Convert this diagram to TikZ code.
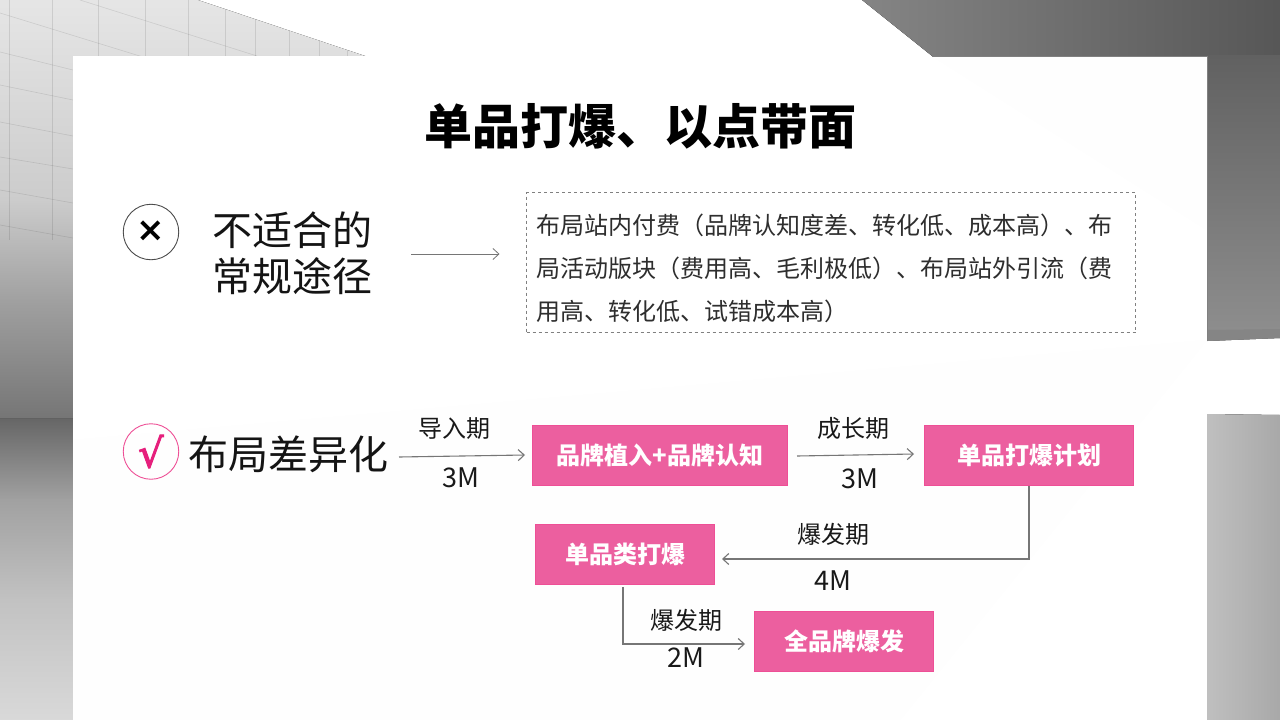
\documentclass[tikz,border=0pt]{standalone}
\usepackage{fontspec}
\setmainfont{Noto Sans CJK SC}
\newfontfamily\symfont{DejaVu Sans}
\newfontfamily\symheavy[FakeBold=2.5]{DejaVu Sans}
\usetikzlibrary{arrows.meta}
\definecolor{pinkfill}{HTML}{EC5F9F}
\definecolor{pinkedge}{HTML}{EE4F96}
\definecolor{pinkmark}{HTML}{E61F7C}
\definecolor{linegray}{HTML}{767676}
\definecolor{cardtint}{HTML}{FEFEFE}
\tikzset{
  x=1pt,y=-1pt,
  pinkbox/.style={draw=pinkedge,line width=0.8pt,fill=pinkfill,text=white,font=\fontsize{24}{28}\selectfont\bfseries,inner sep=0pt,minimum height=60pt},
  heading/.style={font=\fontsize{40}{46}\selectfont,text=black!92,inner sep=0pt,align=center},
  period/.style={font=\fontsize{24}{28}\selectfont,text=black!90,inner sep=0pt},
  amount/.style={font=\fontsize{27}{30}\selectfont,text=black!90,inner sep=0pt},
  conn/.style={draw=linegray,line width=1.1pt,-{Straight Barb[length=6pt,width=11pt,line width=1.1pt]}},
  thinconn/.style={draw=linegray,line width=0.8pt,-{Straight Barb[length=6pt,width=11pt,line width=0.8pt]}},
  ringmark/.style={circle,minimum size=55.5pt,inner sep=0pt,line width=0.9pt},
  gridline/.style={draw=black,draw opacity=0.1,line width=0.6pt}
}
\begin{document}
\begin{tikzpicture}
\useasboundingbox (0,0) rectangle (1280,720);
\fill[white] (0,0) rectangle (1280,720);
% left background
\fill[top color=black!10,bottom color=black!20] (0,0) -- (198,0) -- (365,56) -- (73,56) -- (73,200) -- (0,200) -- cycle;
\fill[top color=black!20,bottom color=black!37] (0,199) rectangle (73,300);
\fill[top color=black!37,bottom color=black!54] (0,299) rectangle (73,419);
\fill[top color=black!60,bottom color=black!37] (0,418) rectangle (73,500);
\fill[top color=black!37,bottom color=black!24] (0,499) rectangle (73,600);
\fill[top color=black!24,bottom color=black!15] (0,599) rectangle (73,720);
\fill[black!62] (0,417.5) rectangle (73,419);
\begin{scope}
\clip (0,0) -- (198,0) -- (365,56) -- (73,56) -- (73,240) -- (0,240) -- cycle;
\foreach \xa in {9,52,98,145,188,225,255,289,319,347}
  \draw[gridline] (\xa,0) -- (\xa,240);
\draw[gridline] (80,0) -- (257,56);
\draw[gridline] (0,13) -- (143,57);
\draw[gridline] (0,52) -- (73,70);
\draw[gridline] (0,85) -- (73,100);
\draw[gridline] (0,122) -- (73,136);
\draw[gridline] (0,157) -- (73,169);
\draw[gridline] (0,190) -- (73,203);
\draw[gridline] (0,225) -- (73,238);
\end{scope}
% right background
\fill[left color=black!48,right color=black!66] (862,0) -- (1280,0) -- (1280,56) -- (932,56) -- cycle;
\fill[top color=black!62,bottom color=black!44] (1207,55) -- (1280,55) -- (1280,338) -- (1207,341) -- cycle;
\fill[left color=black!25,right color=black!34] (1207,414) -- (1280,415) -- (1280,720) -- (1207,720) -- cycle;
\fill[black!48] (1207,330) -- (1280,329) -- (1280,338) -- (1207,341) -- cycle;
% card
\fill[white] (73,56) rectangle (1207,720);
\fill[cardtint] (932,56) -- (1207,56) -- (1207,230) -- cycle;
\fill[cardtint] (73,440) -- (1207,340) -- (900,720) -- (73,720) -- cycle;
\draw[black!50,line width=0.5pt] (932,56) -- (1207,56) -- (1207,341);
% title
\node[inner sep=0pt,font=\fontsize{48}{54}\selectfont\bfseries,text=black] (title) at (640,126) {单品打爆、以点带面};
% row 1
\node[ringmark,draw=black!70] (cross) at (151,232) {\fontsize{34}{36}\selectfont\bfseries\symfont\raisebox{1pt}{×}};
\node[heading] (wrong) at (292.5,253.5) {不适合的\\常规途径};
\node[draw=black!50,dashed,line width=0.8pt,minimum width=609pt,minimum height=140pt,inner sep=0pt] (para) at (831,262.5) {};
\node[anchor=west,inner sep=0pt,align=left,text=black!82,font=\fontsize{24}{43}\selectfont] (paratext) at (536,268) {布局站内付费（品牌认知度差、转化低、成本高）、布\\局活动版块（费用高、毛利极低）、布局站外引流（费\\用高、转化低、试错成本高）};
\coordinate (wstart) at (411,254);
\coordinate (wend) at (499.5,254);
\draw[thinconn] (wstart) -- (wend);
% row 2
\node[ringmark,draw=pinkedge] (tick) at (151,451.5) {\fontsize{40}{44}\selectfont\symheavy\textcolor{pinkmark}{√}};
\node[heading] (diff) at (288,454) {布局差异化};
\node[pinkbox,minimum width=255pt] (brand) at (660,455.5) {品牌植入+品牌认知};
\node[pinkbox,minimum width=209.5pt] (plan) at (1029,455.5) {单品打爆计划};
\node[pinkbox,minimum width=179.5pt] (single) at (625,554.5) {单品类打爆};
\node[pinkbox,minimum width=179.5pt] (full) at (844,641.5) {全品牌爆发};
\node[period] (p1) at (454,428.5) {导入期};
\node[amount] (m1) at (461,478) {3M};
\node[period] (p2) at (853,428.5) {成长期};
\node[amount] (m2) at (860,479) {3M};
\node[period] (p3) at (833,534) {爆发期};
\node[amount] (m3) at (833,581) {4M};
\node[period] (p4) at (686,620.5) {爆发期};
\node[amount] (m4) at (686,658) {2M};
\coordinate (a1) at (399,457);
\coordinate (a2) at (525,455);
\coordinate (b1) at (797,456);
\coordinate (b2) at (914,454);
\coordinate (c2) at (722,559);
\coordinate (d1) at (623,587);
\coordinate (d2) at (745,644);
\draw[conn] (a1) -- (a2);
\draw[conn] (b1) -- (b2);
\draw[conn] (plan.south) |- (c2);
\draw[conn] (d1) |- (d2);
\end{tikzpicture}
\end{document}
